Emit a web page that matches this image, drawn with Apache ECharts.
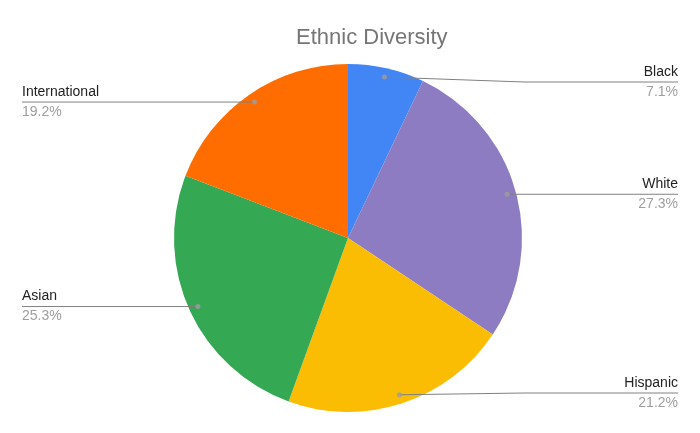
<!DOCTYPE html>
<html>
<head>
<meta charset="utf-8">
<script src="https://cdn.jsdelivr.net/npm/echarts@6/dist/echarts.min.js"></script>
<style>
  html, body { margin: 0; background: #fff; }
  #chart { width: 700px; height: 433px; }
</style>
</head>
<body>
<div id="chart"></div>
<script>
/* Ethnic Diversity pie — Sheets-style edge labels */
var categories = ['Black', 'White', 'Hispanic', 'Asian', 'International'];
var values = [7.1, 27.3, 21.2, 25.3, 19.2];
var colors = ['#4285f4', '#8e7cc3', '#fbbc04', '#34a853', '#ff6d01'];

(function () {
  var CX = 348, CY = 238, R = 174, DOT_R = 165, EDGE = 22;
  var lineColor = '#808080';

  var total = 0;
  values.forEach(function (v) { total += v; });
  // angle (in value units) at the middle of each slice, for the grey dots
  var mids = [], acc = 0;
  values.forEach(function (v) { mids.push(acc + v / 2); acc += v; });

  var pieData = categories.map(function (c, i) {
    return { name: c, value: values[i], itemStyle: { color: colors[i] } };
  });

  var chart = echarts.init(document.getElementById('chart'), null, { renderer: 'canvas' });
  chart.setOption({
    animation: false,
    title: {
      text: 'Ethnic Diversity', left: 291, top: 22,
      textStyle: { fontSize: 22, fontWeight: 'normal', color: '#757575', fontFamily: 'Liberation Sans' }
    },
    polar: { center: [CX, CY], radius: R },
    angleAxis: { type: 'value', min: 0, max: total, startAngle: 90, show: false },
    radiusAxis: { type: 'value', min: 0, max: R, show: false },
    series: [{
      // coloured slices
      type: 'pie',
      center: [CX, CY],
      radius: R,
      startAngle: 90,
      silent: true,
      emphasis: { disabled: true },
      label: { show: false },
      labelLine: { show: false },
      data: pieData,
      z: 1
    }, {
      // transparent copy on top that carries labels + leader lines
      type: 'pie',
      center: [CX, CY],
      radius: R,
      startAngle: 90,
      silent: true,
      emphasis: { disabled: true },
      itemStyle: { color: 'rgba(0,0,0,0)' },
      data: categories.map(function (c, i) { return { name: c, value: values[i] }; }),
      z: 3,
      label: {
        position: 'outside',
        alignTo: 'edge',
        edgeDistance: EDGE,
        formatter: '{n|{b}}\n{p|{c}%}',
        rich: {
          n: { fontSize: 14, color: '#222', lineHeight: 20, fontFamily: 'Liberation Sans' },
          p: { fontSize: 14, color: '#9e9e9e', lineHeight: 20, fontFamily: 'Liberation Sans' }
        }
      },
      labelLine: { show: true, length: 0, length2: 10, lineStyle: { color: lineColor, width: 1 } },
      labelLayout: function (params) {
        var p0 = params.labelLinePoints[0];
        var dx = p0[0] - CX, dy = p0[1] - CY;
        var len = Math.sqrt(dx * dx + dy * dy);
        var dot = [CX + dx / len * DOT_R, CY + dy / len * DOT_R];
        var ly = Math.min(Math.max(dot[1], CY - R + 18), CY + R - 19);
        var right = dx > 0;
        var lr = params.labelRect;
        var endX = right ? lr.x + lr.width : lr.x;
        var midX = right ? CX + R + 2 : CX - R - 2;
        return {
          y: ly,
          verticalAlign: 'middle',
          labelLinePoints: [dot, [midX, ly], [endX, ly]]
        };
      }
    }, {
      type: 'scatter',
      coordinateSystem: 'polar',
      symbolSize: 5,
      silent: true,
      itemStyle: { color: '#9e9e9e' },
      data: mids.map(function (m) { return [DOT_R, m]; }),
      z: 5
    }]
  });
})();
</script>
</body>
</html>
